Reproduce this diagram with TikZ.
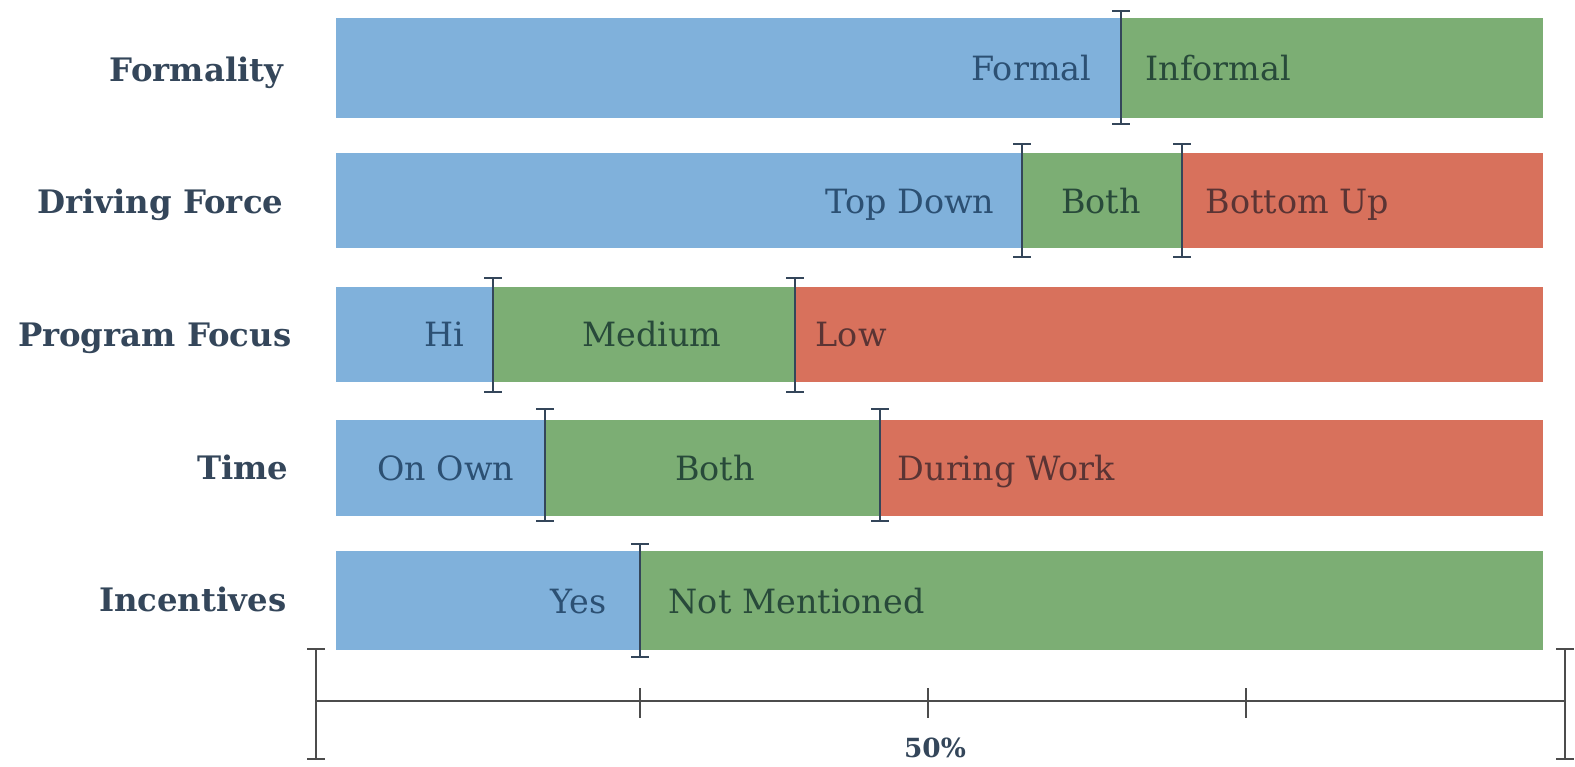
\documentclass[tikz,border=0pt]{standalone}
\usepackage{fontspec}
\setmainfont{DejaVu Serif}
\usetikzlibrary{arrows.meta}
\definecolor{barblue}{HTML}{80B1DB}
\definecolor{bargreen}{HTML}{7CAE74}
\definecolor{barred}{HTML}{D8715C}
\definecolor{slate}{HTML}{34465A}
\definecolor{bluetext}{HTML}{2C5073}
\definecolor{greentext}{HTML}{284A3A}
\definecolor{redtext}{HTML}{5A3434}
\begin{document}
\begin{tikzpicture}[x=0.01cm, y=-0.01cm,
    rowlabel/.style={anchor=base east, inner sep=0pt, text=slate, font=\bfseries\fontsize{9.2}{11}\selectfont},
    seglabel/.style={inner sep=0pt, font=\fontsize{9.5}{11}\selectfont},
    divider/.style={draw=slate, line width=0.7pt, {Bar[width=5pt]}-{Bar[width=5pt]}},
    axisline/.style={draw=black!70, line width=0.6pt}]
    \useasboundingbox (0,0) rectangle (1575,766);

    % Row labels
    \node[rowlabel] (formality) at (284,81) {Formality};
    \node[rowlabel] (driving) at (284,213) {Driving Force};
    \node[rowlabel] (program) at (292,346) {Program Focus};
    \node[rowlabel] (time) at (289,479) {Time};
    \node[rowlabel] (incentives) at (287,611) {Incentives};

    % Formality
    \fill[barblue] (336,18) rectangle (1121,118);
    \fill[bargreen] (1121,18) rectangle (1543,118);
    \draw[divider] (1121,10) -- (1121,125);
    \node[seglabel, anchor=base east, text=bluetext] (formal) at (1092,80) {Formal};
    \node[seglabel, anchor=base west, text=greentext] (informal) at (1145,80) {Informal};

    % Driving Force
    \fill[barblue] (336,153) rectangle (1022,248);
    \fill[bargreen] (1022,153) rectangle (1182,248);
    \fill[barred] (1182,153) rectangle (1543,248);
    \draw[divider] (1022,143) -- (1022,258);
    \draw[divider] (1182,143) -- (1182,258);
    \node[seglabel, anchor=base east, text=bluetext] (topdown) at (995,213) {Top Down};
    \node[seglabel, anchor=base, text=greentext] (bothdrv) at (1101,213) {Both};
    \node[seglabel, anchor=base west, text=redtext] (bottomup) at (1205,213) {Bottom Up};

    % Program Focus
    \fill[barblue] (336,287) rectangle (493,382);
    \fill[bargreen] (493,287) rectangle (795,382);
    \fill[barred] (795,287) rectangle (1543,382);
    \draw[divider] (493,277) -- (493,393);
    \draw[divider] (795,277) -- (795,393);
    \node[seglabel, anchor=base east, text=bluetext] (hi) at (465,346) {Hi};
    \node[seglabel, anchor=base, text=greentext] (medium) at (652,346) {Medium};
    \node[seglabel, anchor=base west, text=redtext] (low) at (815,346) {Low};

    % Time
    \fill[barblue] (336,420) rectangle (545,516);
    \fill[bargreen] (545,420) rectangle (880,516);
    \fill[barred] (880,420) rectangle (1543,516);
    \draw[divider] (545,408) -- (545,522);
    \draw[divider] (880,408) -- (880,522);
    \node[seglabel, anchor=base east, text=bluetext] (onown) at (515,480) {On Own};
    \node[seglabel, anchor=base, text=greentext] (bothtime) at (715,480) {Both};
    \node[seglabel, anchor=base west, text=redtext] (duringwork) at (897,480) {During Work};

    % Incentives
    \fill[barblue] (336,551) rectangle (640,650);
    \fill[bargreen] (640,551) rectangle (1543,650);
    \draw[divider] (640,543) -- (640,658);
    \node[seglabel, anchor=base east, text=bluetext] (yes) at (607,613) {Yes};
    \node[seglabel, anchor=base west, text=greentext] (notmentioned) at (668,613) {Not Mentioned};

    % Axis
    \draw[axisline] (316,701) -- (1565,701);
    \draw[axisline, {Bar[width=5pt]}-{Bar[width=5pt]}] (316,648) -- (316,760);
    \draw[axisline, {Bar[width=5pt]}-{Bar[width=5pt]}] (1565,648) -- (1565,760);
    \foreach \t in {640,928,1246}
        \draw[axisline] (\t,688) -- (\t,718);
    \node[inner sep=0pt, anchor=base, text=slate, font=\bfseries\fontsize{7.5}{9}\selectfont] (half) at (935,757) {50\%};
\end{tikzpicture}
\end{document}
